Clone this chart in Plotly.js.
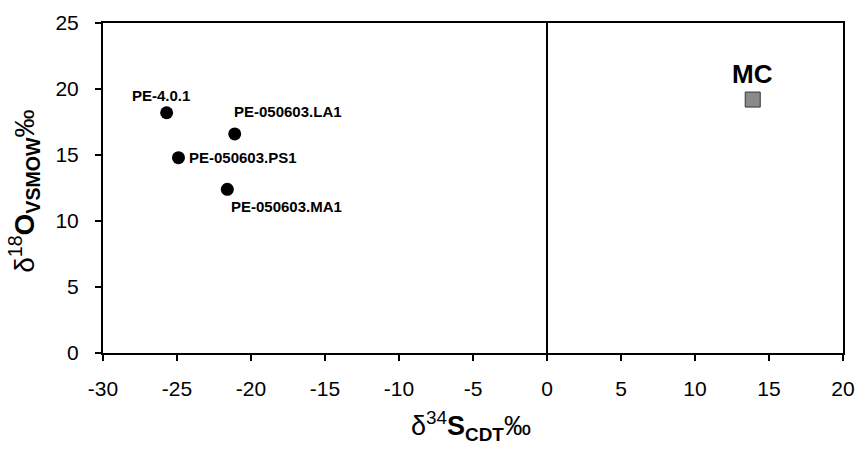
<!DOCTYPE html>
<html><head><meta charset="utf-8">
<script src="https://cdn.plot.ly/plotly-3.0.1.min.js"></script>
<style>body{margin:0;background:#fff}#c{width:862px;height:449px}</style>
</head><body><div id="c"></div>
<script>
const sampleNames = ["PE-4.0.1", "PE-050603.LA1", "PE-050603.PS1", "PE-050603.MA1"];
const sampleD34S = [-25.7, -21.1, -24.9, -21.6];
const sampleD18O = [18.2, 16.6, 14.8, 12.4];
const mcName = ["MC"];
const mcD34S = [13.9];
const mcD18O = [19.2];
const xTicks = [-30, -25, -20, -15, -10, -5, 0, 5, 10, 15, 20];
const yTicks = [0, 5, 10, 15, 20, 25];

// label placement (layout only)
const labelAnchor = ["center", "left", "left", "left"];
const labelShiftX = [-6, -3, 9, 2];
const labelShiftY = [17, 22, 0, -17];

const FONT = "Arial, 'Liberation Sans', sans-serif";

const traces = [
  {x: sampleD34S, y: sampleD18O, mode: "markers", type: "scatter",
   marker: {symbol: "circle", size: 13, color: "#000"}, hoverinfo: "skip"},
  {x: mcD34S, y: mcD18O, mode: "markers", type: "scatter",
   marker: {symbol: "square", size: 15, color: "#8a8a8a", line: {color: "#333", width: 1}}, hoverinfo: "skip"}
];

const annotations = sampleNames.map((n, i) => ({
  xref: "x", yref: "y", x: sampleD34S[i], y: sampleD18O[i], text: "<b>" + n + "</b>",
  showarrow: false, xanchor: labelAnchor[i], yanchor: "middle",
  xshift: labelShiftX[i], yshift: labelShiftY[i],
  font: {family: FONT, size: 15, color: "#000"}
}));
annotations.push({
  xref: "x", yref: "y", x: mcD34S[0], y: mcD18O[0], text: "<b>" + mcName[0] + "</b>",
  showarrow: false, xanchor: "center", yanchor: "middle", yshift: 26,
  font: {family: FONT, size: 26, color: "#000"}
});
annotations.push(
  {xref: "paper", yref: "paper", x: 0.497, y: -0.222, xanchor: "center", yanchor: "middle",
   showarrow: false, font: {family: FONT, size: 27, color: "#000"},
   text: "δ<sup>34</sup><b>S</b><sub><b>CDT</b></sub>‰"},
  {xref: "paper", yref: "paper", x: -0.106, y: 0.49, xanchor: "center", yanchor: "middle",
   showarrow: false, textangle: -90, font: {family: FONT, size: 28, color: "#000"},
   text: "δ<sup>18</sup><b>O</b><sub><b>VSMOW</b></sub>‰"}
);

const layout = {
  width: 862, height: 449,
  margin: {l: 103, r: 19, t: 23, b: 96},
  paper_bgcolor: "#fff", plot_bgcolor: "#fff",
  showlegend: false,
  font: {family: FONT, size: 21, color: "#000"},
  xaxis: {range: [-30, 20], tickvals: xTicks, ticktext: xTicks.map(String),
    showgrid: false, zeroline: true, zerolinecolor: "#000", zerolinewidth: 1.5,
    showline: true, linecolor: "#000", linewidth: 2, mirror: true,
    ticks: "outside", ticklen: 6, tickwidth: 2, tickcolor: "#000",
    ticklabelstandoff: 10, tickfont: {size: 21}},
  yaxis: {range: [0, 25], tickvals: yTicks, ticktext: yTicks.map(String),
    showgrid: false, zeroline: false,
    showline: true, linecolor: "#000", linewidth: 2, mirror: true,
    ticks: "outside", ticklen: 6, tickwidth: 2, tickcolor: "#000",
    ticklabelstandoff: 12, tickfont: {size: 21}},
  annotations: annotations
};
Plotly.newPlot("c", traces, layout, {displayModeBar: false});
</script></body></html>
